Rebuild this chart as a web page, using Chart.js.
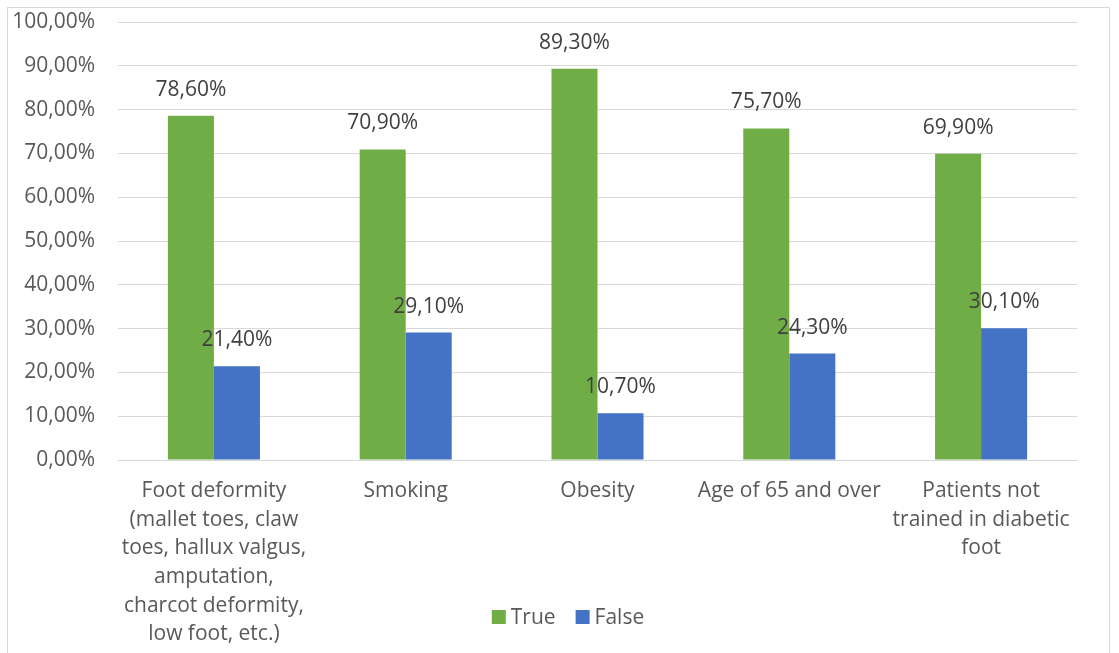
<!DOCTYPE html>
<html lang="en">
<head>
  <meta charset="UTF-8">
  <title>Risk factors</title>
  <script src="https://cdn.jsdelivr.net/npm/chart.js"></script>
  <style>
    html, body {
      margin: 0;
      padding: 0;
      background: #fff;
      overflow: hidden;
    }
    #wrap {
      width: 1119px;
      height: 653px;
    }
  </style>
</head>
<body>
  <div id="wrap"><canvas id="grafico" width="1119" height="653"></canvas></div>

  <script>
    const categorias = [
      ['Foot deformity', '(mallet toes, claw', 'toes, hallux valgus,', 'amputation,', 'charcot deformity,', 'low foot, etc.)'],
      ['Smoking'],
      ['Obesity'],
      ['Age of 65 and over'],
      ['Patients not', 'trained in diabetic', 'foot']
    ];
    const valoresTrue = [78.6, 70.9, 89.3, 75.7, 69.9];
    const valoresFalse = [21.4, 29.1, 10.7, 24.3, 30.1];
    const ticksY = [0, 10, 20, 30, 40, 50, 60, 70, 80, 90, 100];

    const fonte = "'Open Sans', sans-serif";
    const tamanho = 21;
    const pct = v => v.toFixed(2).replace('.', ',') + '%';

    // moldura cinza em volta do gráfico
    const moldura = {
      id: 'moldura',
      beforeDraw(chart) {
        const { ctx } = chart;
        ctx.save();
        ctx.fillStyle = '#fff';
        ctx.fillRect(0, 0, chart.width, chart.height);
        ctx.strokeStyle = '#d9d9d9';
        ctx.lineWidth = 1;
        ctx.strokeRect(7.5, 7.5, 1102, 700);
        ctx.restore();
      }
    };

    // valores escritos acima de cada barra
    const rotulos = {
      id: 'rotulos',
      afterDatasetsDraw(chart) {
        const { ctx } = chart;
        ctx.save();
        ctx.fillStyle = '#404040';
        ctx.font = tamanho + 'px ' + fonte;
        ctx.textAlign = 'center';
        ctx.textBaseline = 'middle';
        chart.data.datasets.forEach((ds, i) => {
          chart.getDatasetMeta(i).data.forEach((bar, j) => {
            ctx.fillText(pct(ds.data[j]), bar.x, bar.y - 26);
          });
        });
        ctx.restore();
      }
    };

    // legenda desenhada à mão: a do Chart.js empurra o eixo x e corta os rótulos longos
    const legenda = {
      id: 'legenda',
      afterDraw(chart) {
        const { ctx } = chart;
        const caixa = 14;
        const y = 617;
        ctx.save();
        ctx.font = tamanho + 'px ' + fonte;
        ctx.textBaseline = 'middle';
        const itens = chart.data.datasets.map(ds => ({
          texto: ds.label,
          cor: ds.backgroundColor,
          largura: ctx.measureText(ds.label).width
        }));
        const total = itens.reduce((s, it) => s + caixa + 5 + it.largura, 0) + 20 * (itens.length - 1);
        let x = 568 - total / 2;
        itens.forEach(it => {
          ctx.fillStyle = it.cor;
          ctx.fillRect(x, y - caixa / 2, caixa, caixa);
          x += caixa + 5;
          ctx.fillStyle = '#595959';
          ctx.fillText(it.texto, x, y + 1);
          x += it.largura + 20;
        });
        ctx.restore();
      }
    };

    const ctx = document.getElementById('grafico').getContext('2d');

    new Chart(ctx, {
      type: 'bar',
      data: {
        labels: categorias,
        datasets: [
          {
            label: 'True',
            data: valoresTrue,
            backgroundColor: '#70ad47',
            categoryPercentage: 0.48,
            barPercentage: 1.0
          },
          {
            label: 'False',
            data: valoresFalse,
            backgroundColor: '#4472c4',
            categoryPercentage: 0.48,
            barPercentage: 1.0
          }
        ]
      },
      options: {
        responsive: false,
        animation: false,
        layout: {
          padding: { top: 22, right: 42, bottom: 0, left: 0 }
        },
        scales: {
          x: {
            grid: { display: false, drawTicks: false },
            border: { color: '#d9d9d9' },
            ticks: {
              color: '#595959',
              font: { family: fonte, size: tamanho, lineHeight: 1.36 },
              padding: 17,
              maxRotation: 0,
              autoSkip: false
            },
            afterFit(scale) {
              scale.height = 193;
            }
          },
          y: {
            min: 0,
            max: 100,
            afterBuildTicks(scale) {
              scale.ticks = ticksY.map(v => ({ value: v }));
            },
            grid: { color: '#d9d9d9', drawTicks: false },
            border: { display: false },
            ticks: {
              color: '#595959',
              font: { family: fonte, size: tamanho },
              padding: 23,
              callback: v => pct(v)
            },
            afterFit(scale) {
              // o recuo dos rótulos não deve empurrar a área do gráfico para baixo
              scale.width = 118;
              scale.paddingTop = 0;
              scale.paddingBottom = 0;
            }
          }
        },
        plugins: {
          legend: { display: false },
          tooltip: { enabled: false }
        }
      },
      plugins: [moldura, rotulos, legenda]
    });
  </script>
</body>
</html>
